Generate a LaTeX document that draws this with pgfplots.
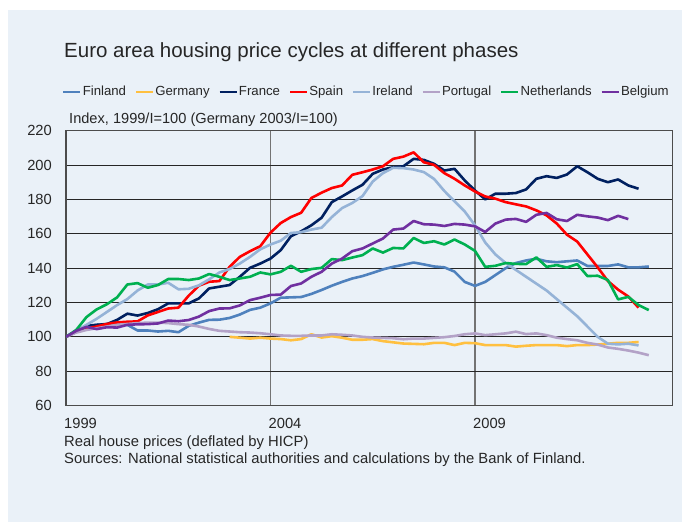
\documentclass[border=0pt]{standalone}
\usepackage{fontspec}
\setmainfont{Liberation Sans}
\usepackage{pgfplots}
\pgfplotsset{compat=1.18}
\definecolor{bg}{HTML}{EAF1F8}
\definecolor{txt}{HTML}{262626}
\definecolor{cFin}{HTML}{4F81BD}
\definecolor{cGer}{HTML}{FFC040}
\definecolor{cFra}{HTML}{002060}
\definecolor{cSpa}{HTML}{FF0000}
\definecolor{cIre}{HTML}{95B3D7}
\definecolor{cPor}{HTML}{B3A2C7}
\definecolor{cNet}{HTML}{00B050}
\definecolor{cBel}{HTML}{7030A0}
\begin{document}
\begin{tikzpicture}[x=1bp,y=1bp]
\useasboundingbox (0,0) rectangle (682,522);
\fill[white] (0,0) rectangle (682,522);
\fill[bg] (8,0) rectangle (682,512);
\node[anchor=base west, inner sep=0pt, text=txt, font=\fontsize{20.5bp}{24bp}\selectfont] at (64,464) {Euro area housing price cycles at different phases};
\node[anchor=base west, inner sep=0pt, text=txt, font=\fontsize{14.6bp}{17bp}\selectfont] at (69,398) {Index, 1999/I=100 (Germany 2003/I=100)};
\node[anchor=base west, inner sep=0pt, text=txt, font=\fontsize{14.8bp}{17bp}\selectfont] at (64,75) {Real house prices (deflated by HICP)};
\node[anchor=base west, inner sep=0pt, text=txt, font=\fontsize{14.8bp}{17bp}\selectfont] at (64,58) {Sources: National statistical authorities and calculations by the Bank of Finland.};
\begin{axis}[
  at={(66bp,116.5bp)}, anchor=south west, scale only axis,
  width=606.3bp, height=274.6bp,
  xmin=0, xmax=59.3, ymin=60, ymax=220,
  axis background/.style={fill=bg},
  axis line style={draw=black!70, line width=1.2bp},
  ytick={60,80,...,220},
  xtick={0,20,40}, xticklabels={1999,2004,2009},
  major tick length=0pt,
  /pgf/number format/assume math mode=true,
  ymajorgrids, xmajorgrids,
  y grid style={draw=black!85, line width=0.9bp},
  x grid style={draw=black!55, line width=1.2bp},
  tick label style={text=txt, font=\fontsize{14.7bp}{17bp}\selectfont},
  yticklabel style={anchor=east, inner sep=0pt, xshift=-14bp},
  xticklabel style={anchor=north west, inner sep=0pt, xshift=-2bp, yshift=-12.5bp},
  legend columns=8,
  legend cell align=left,
  legend style={at={(axis description cs:-0.0066,1.1417)}, anchor=west, draw=none, fill=none, inner sep=0pt,
    font=\fontsize{13.2bp}{15bp}\selectfont, text=txt, nodes={inner sep=0pt, text height=9.5bp, text depth=2.8bp},
    /tikz/every odd column/.append style={column sep=1bp},
    /tikz/every even column/.append style={column sep=8.7bp}},
  legend image code/.code={\draw[#1, line width=2.6bp] (0bp,0bp) -- (17bp,0bp);},
  every axis plot/.append style={line width=2.6bp, line join=round},
]
\addplot[cFin] coordinates {(0,100)(1,103.5)(2,106)(3,107)(4,107.5)(5,107.7)(6,107)(7,103.7)(8,103.7)(9,103.1)(10,103.5)(11,102.7)(12,106.4)(13,108.3)(14,109.9)(15,110)(16,111)(17,113)(18,115.7)(19,117)(20,119.5)(21,122.8)(22,123)(23,123.2)(24,125)(25,127.3)(26,129.8)(27,132)(28,134)(29,135.4)(30,137.3)(31,139.3)(32,140.8)(33,142)(34,143.3)(35,142.2)(36,141)(37,140.5)(38,138)(39,132)(40,129.7)(41,132)(42,136)(43,140)(44,143)(45,144.5)(46,145.5)(47,144)(48,143.5)(49,144)(50,144.5)(51,141.3)(52,141.3)(53,141.3)(54,142.2)(55,140.5)(56,140.5)(57,141)};
\addlegendentry{Finland}
\addplot[cGer] coordinates {(16,100)(17,99.5)(18,99)(19,99.5)(20,99)(21,98.7)(22,98)(23,98.7)(24,101.5)(25,99.6)(26,100.4)(27,99.5)(28,98.3)(29,98.3)(30,98.7)(31,97.5)(32,96.8)(33,96.1)(34,95.9)(35,95.7)(36,96.5)(37,96.5)(38,95.2)(39,96.5)(40,96.3)(41,95.2)(42,95.2)(43,95.2)(44,94.3)(45,94.8)(46,95.2)(47,95.2)(48,95.2)(49,94.6)(50,95.2)(51,95.2)(52,95.5)(53,96)(54,96.5)(55,96.5)(56,97)};
\addlegendentry{Germany}
\addplot[cFra] coordinates {(0,100)(1,103)(2,106.4)(3,107)(4,107.4)(5,109.9)(6,113.5)(7,112.4)(8,113.9)(9,116.1)(10,119.5)(11,119.5)(12,119.5)(13,122.4)(14,128.2)(15,129.2)(16,130.2)(17,135)(18,140.2)(19,142.7)(20,145.6)(21,150.5)(22,158.6)(23,161.5)(24,165)(25,169.4)(26,178.5)(27,181.8)(28,185.3)(29,188.6)(30,195)(31,197.5)(32,198.8)(33,199.4)(34,203.7)(35,203.1)(36,200.8)(37,196.9)(38,197.9)(39,191.1)(40,185.3)(41,180.1)(42,183.4)(43,183.4)(44,183.8)(45,185.9)(46,192.1)(47,193.6)(48,192.6)(49,194.6)(50,199.4)(51,195.9)(52,192.1)(53,190.1)(54,191.7)(55,188.2)(56,186.3)};
\addlegendentry{France}
\addplot[cSpa] coordinates {(0,100)(1,103)(2,105)(3,106)(4,107.5)(5,108.4)(6,108.8)(7,109)(8,112.5)(9,114.5)(10,116.5)(11,117)(12,124)(13,129.8)(14,132.1)(15,132.5)(16,140.8)(17,146.6)(18,149.9)(19,152.8)(20,160.7)(21,166.3)(22,169.8)(23,172.3)(24,180.9)(25,184)(26,186.7)(27,188.2)(28,194.4)(29,195.9)(30,197.5)(31,199.4)(32,203.7)(33,205)(34,207.5)(35,201.7)(36,200.2)(37,195.4)(38,192.1)(39,188.2)(40,184.7)(41,181.8)(42,180.5)(43,178.5)(44,177.2)(45,176)(46,173.7)(47,170.8)(48,166)(49,159.5)(50,155.5)(51,148)(52,140.5)(53,132.5)(54,127.5)(55,123.5)(56,117)};
\addlegendentry{Spain}
\addplot[cIre] coordinates {(0,100)(1,103.5)(2,107)(3,110.5)(4,114.5)(5,118.5)(6,122)(7,127)(8,130.5)(9,130.5)(10,131.5)(11,127.7)(12,128)(13,130)(14,133.5)(15,137.5)(16,139.5)(17,142.7)(18,146.6)(19,151)(20,153.8)(21,156)(22,160.5)(23,161)(24,162.5)(25,163.6)(26,169.8)(27,175)(28,178)(29,182)(30,190.5)(31,195.4)(32,198.5)(33,198.3)(34,197.5)(35,196)(36,192)(37,185)(38,179)(39,173)(40,165)(41,155)(42,148)(43,143)(44,139)(45,135)(46,131)(47,127)(48,122)(49,117)(50,112)(51,106)(52,100)(53,96)(54,95.6)(55,96)(56,95)};
\addlegendentry{Ireland}
\addplot[cPor] coordinates {(0,100)(1,102.5)(2,104)(3,105)(4,106)(5,107)(6,107.5)(7,108)(8,108.3)(9,108.3)(10,108)(11,107.4)(12,107)(13,106)(14,104.6)(15,103.5)(16,103.1)(17,102.7)(18,102.5)(19,102.1)(20,101.5)(21,100.8)(22,100.6)(23,100.6)(24,100.8)(25,100.8)(26,101.5)(27,101.2)(28,100.8)(29,100)(30,99.6)(31,99.4)(32,99.2)(33,98.6)(34,99)(35,99)(36,99.4)(37,99.8)(38,100.5)(39,101.5)(40,102)(41,101)(42,101.5)(43,102)(44,103)(45,101.6)(46,102)(47,101)(48,99.5)(49,98.7)(50,98)(51,96.5)(52,95.5)(53,93.8)(54,93)(55,92)(56,90.8)(57,89.3)};
\addlegendentry{Portugal}
\addplot[cNet] coordinates {(0,100)(1,104)(2,111.5)(3,116)(4,119)(5,123)(6,130.5)(7,131.3)(8,128.6)(9,130.2)(10,133.7)(11,133.7)(12,133.1)(13,134)(14,136.6)(15,135)(16,133.1)(17,134)(18,135)(19,137.5)(20,136.4)(21,137.9)(22,141.4)(23,137.9)(24,139.5)(25,140.2)(26,145.3)(27,144.7)(28,146.2)(29,147.6)(30,151.5)(31,149.1)(32,151.8)(33,151.5)(34,157.6)(35,154.7)(36,155.7)(37,153.8)(38,156.7)(39,153.8)(40,150.1)(41,140.8)(42,141.4)(43,143)(44,142.5)(45,142.4)(46,146.3)(47,140.8)(48,141.8)(49,140.4)(50,142.4)(51,135.4)(52,135.6)(53,133.1)(54,121.8)(55,123.3)(56,118.5)(57,115.6)};
\addlegendentry{Netherlands}
\addplot[cBel] coordinates {(0,100)(1,103.5)(2,105.8)(3,104.5)(4,105.6)(5,105.4)(6,107)(7,107.3)(8,107.4)(9,107.8)(10,109.5)(11,109.1)(12,109.8)(13,111.8)(14,115)(15,116.5)(16,116.6)(17,118.3)(18,121.4)(19,122.8)(20,124.4)(21,124.6)(22,129.6)(23,131.1)(24,135)(25,137.9)(26,142.7)(27,145.6)(28,149.9)(29,151.5)(30,154.4)(31,157.3)(32,162.5)(33,163.1)(34,167.5)(35,165.6)(36,165.4)(37,164.6)(38,165.8)(39,165.4)(40,164.4)(41,161.1)(42,166)(43,168.3)(44,168.7)(45,167)(46,171.1)(47,172.2)(48,168.5)(49,167.5)(50,171.1)(51,170.2)(52,169.5)(53,168)(54,170.5)(55,168.6)};
\addlegendentry{Belgium}
\end{axis}
\end{tikzpicture}
\end{document}
